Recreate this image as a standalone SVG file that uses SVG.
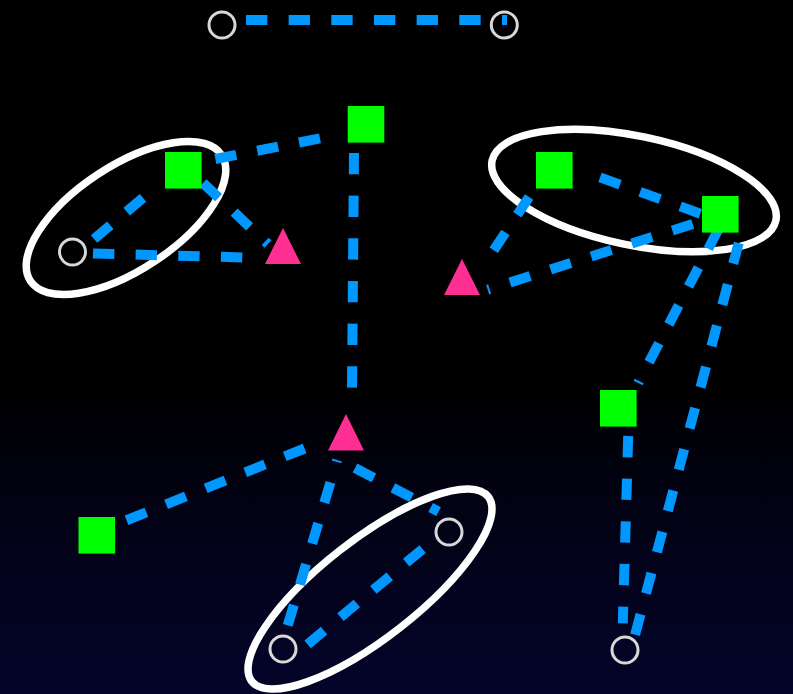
<svg xmlns="http://www.w3.org/2000/svg" width="793" height="694" viewBox="0 0 793 694">
<defs>
<linearGradient id="bg" x1="0" y1="0" x2="0" y2="1">
<stop offset="0" stop-color="#000000"/>
<stop offset="0.56" stop-color="#000001"/>
<stop offset="0.75" stop-color="#020216"/>
<stop offset="1" stop-color="#04042a"/>
</linearGradient>
<style>
.e{fill:none;stroke:#0098ff;stroke-width:10;stroke-dasharray:21.33 21.33}
.s{fill:#00ff00}
.t{fill:#ff2e93}
.c{fill:none;stroke:#d8d8d8;stroke-width:3}
.g{fill:none;stroke:#ffffff;stroke-width:7.5}
</style>
</defs>
<rect x="0" y="0" width="793" height="694" fill="url(#bg)"/>
<g id="clusters">
<ellipse class="g" cx="126" cy="218" rx="114.5" ry="52" transform="rotate(-33.4 126 218)"/>
<ellipse class="g" cx="634" cy="190.5" rx="145" ry="54.5" transform="rotate(11.9 634 190.5)"/>
<ellipse class="g" cx="370" cy="589" rx="150" ry="49" transform="rotate(-38 370 589)"/>
</g>
<g id="edges">
<path class="e" d="M246,20 L507,20"/>
<path class="e" d="M320,138.4 L185,165"/>
<path class="e" d="M354,153 L352,389"/>
<path class="e" d="M203,183 L268,244"/>
<path class="e" d="M93,253.5 L245,257.5"/>
<path class="e" d="M94,239 L150,192"/>
<path class="e" d="M600,177.4 L715,219"/>
<path class="e" d="M493.7,250.2 L541,179"/>
<path class="e" d="M487.7,289.7 L705,220" style="stroke-dashoffset:19.33"/>
<path class="e" d="M718.2,229.8 L638.1,383"/>
<path class="e" d="M738.7,243 L635.1,634.8"/>
<path class="e" d="M628.2,436 L622.8,623.3"/>
<path class="e" d="M304.6,448.5 L116,524.5"/>
<path class="e" d="M337.1,460 L285.5,633" style="stroke-dashoffset:19.33"/>
<path class="e" d="M355,468 L438.6,511.6"/>
<path class="e" d="M307.6,644.3 L430,543"/>
</g>
<g id="c1"><circle class="c" cx="222" cy="25" r="13"/></g>
<g id="c2"><circle class="c" cx="504.3" cy="25" r="13"/></g>
<g id="c3"><circle class="c" cx="72.5" cy="252" r="13"/></g>
<g id="c4"><circle class="c" cx="449" cy="532" r="13"/></g>
<g id="c5"><circle class="c" cx="283" cy="649" r="13"/></g>
<g id="c6"><circle class="c" cx="625" cy="650" r="13"/></g>
<g id="s1"><rect class="s" x="347.7" y="106" width="36.6" height="36.6"/></g>
<g id="s2"><rect class="s" x="165" y="152" width="36.6" height="36.6"/></g>
<g id="s3"><rect class="s" x="536" y="152" width="36.6" height="36.6"/></g>
<g id="s4"><rect class="s" x="702" y="196" width="36.6" height="36.6"/></g>
<g id="s5"><rect class="s" x="78.5" y="517" width="36.6" height="36.6"/></g>
<g id="s6"><rect class="s" x="600" y="390" width="36.6" height="36.6"/></g>
<g id="t1"><polygon class="t" points="283,228 301,264 265,264"/></g>
<g id="t2"><polygon class="t" points="462,259 480,295 444,295"/></g>
<g id="t3"><polygon class="t" points="346,414 364,450.5 328,450.5"/></g>
</svg>
